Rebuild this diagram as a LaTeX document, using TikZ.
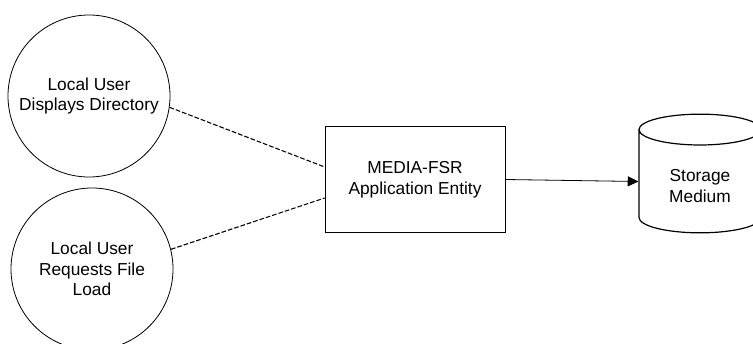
\documentclass[tikz,border=0pt]{standalone}
\usepackage{fontspec}
\setmainfont{Liberation Sans}
\usepackage{tikz}
\usetikzlibrary{arrows.meta,shapes.geometric}
\tikzstyle{usecase} = [circle, minimum size=121.5pt, inner sep=0pt, text centered, align=center, draw=black, line width=0.6pt, font=\fontsize{13}{15.5}\selectfont]
\tikzstyle{entity} = [rectangle, minimum width=135pt, minimum height=80pt, text centered, align=center, draw=black, line width=0.6pt, font=\fontsize{13}{15.5}\selectfont]
\tikzstyle{storage} = [cylinder, shape border rotate=90, aspect=0.5, minimum width=91.5pt, minimum height=89pt, inner sep=0pt, text centered, draw=black, line width=0.9pt, font=\fontsize{13}{15.5}\selectfont]
\tikzstyle{link} = [draw=black, line width=0.8pt, dash pattern=on 3.5pt off 1.5pt]
\tikzstyle{flow} = [draw=black, line width=0.6pt, -{Triangle[length=8pt,width=7.5pt]}]

\begin{document}
\begin{tikzpicture}[x=0.75pt, y=-0.75pt]
 \clip (0,0) rectangle (753,343);

 \node (dispdir) [usecase] at (89,96) {Local User\\Displays Directory};
 \node (fileload) [usecase] at (92,269) {Local User\\Requests File\\Load};
 \node (fsr) [entity] at (415,179.5) {MEDIA-FSR\\Application Entity};
 \node (medium) [storage] at (700,181.5) {\raisebox{-5pt}[\height][\depth]{%
  \begin{tabular}{@{}c@{}}
   Storage\\
   Medium
  \end{tabular}}};

 \draw [link] (dispdir.-8) -- ([yshift=9.4pt]fsr.west);
 \draw [link] (fileload.14) -- ([yshift=-13.9pt]fsr.west);
 \draw [flow] (fsr.east) -- (medium.west);
\end{tikzpicture}
\end{document}
